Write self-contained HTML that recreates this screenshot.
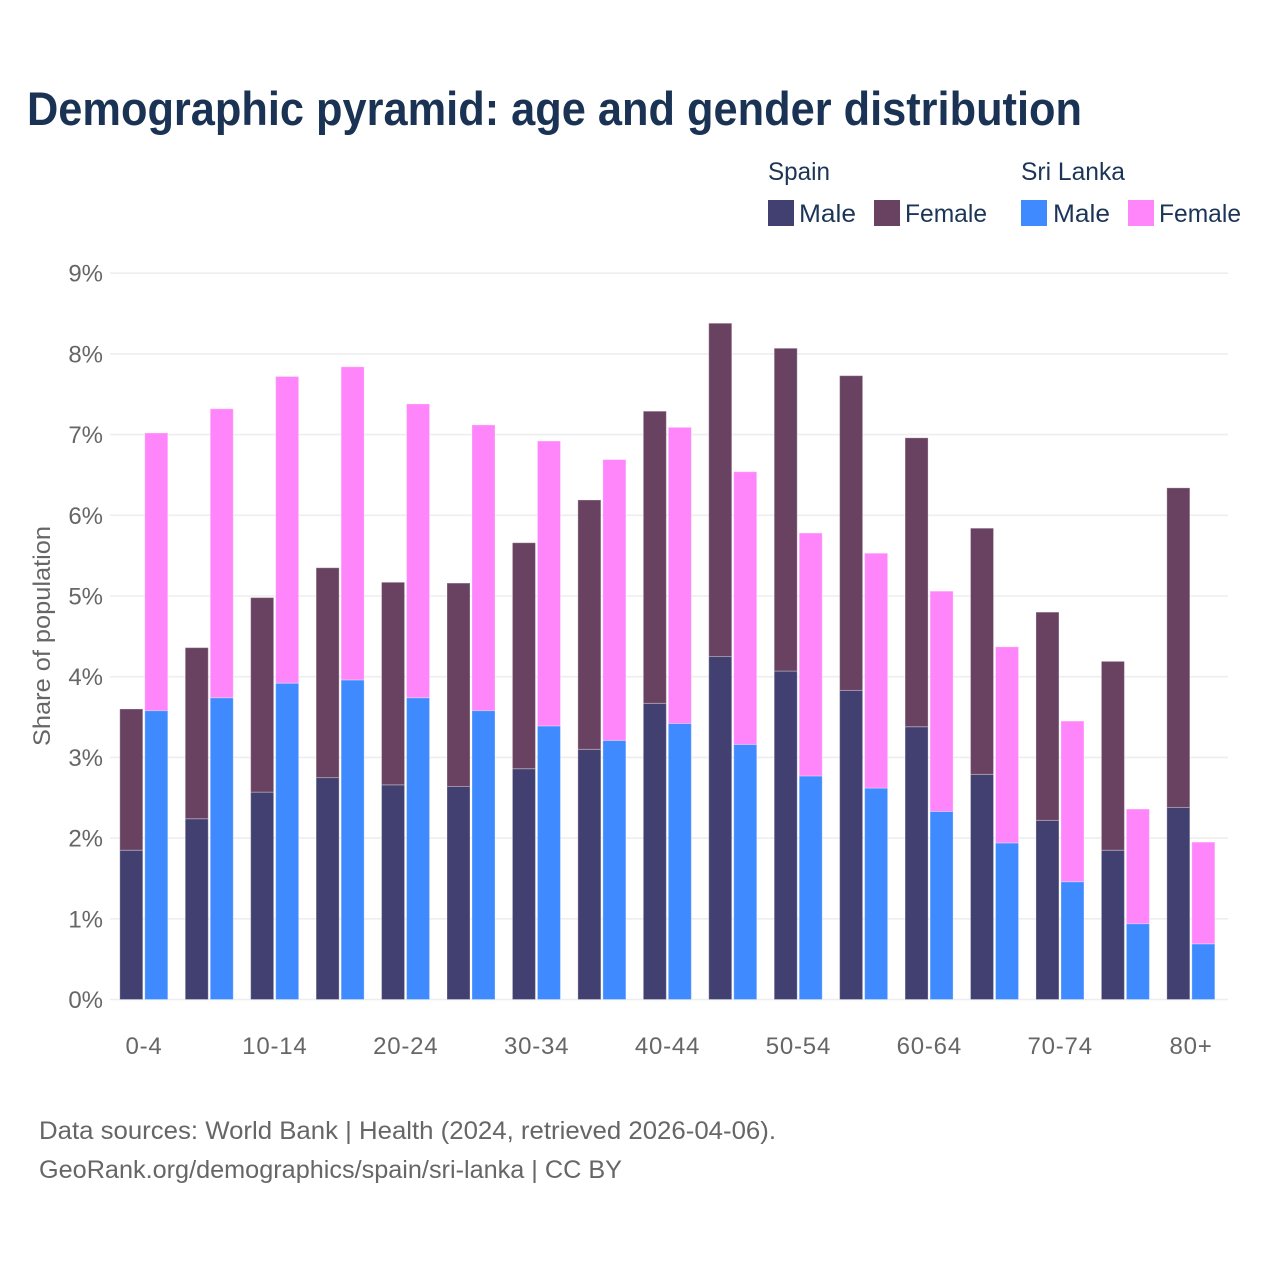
<!DOCTYPE html>
<html lang="en">
<head>
<meta charset="utf-8">
<title>Demographic pyramid</title>
<style>
html,body{margin:0;padding:0;background:#fff;}
svg{display:block;font-family:"Liberation Sans",sans-serif;}
.legend-text{fill:#1c3557;font-size:25px;}
.tick{fill:#666;font-size:24px;}
.foot{fill:#666;font-size:25px;}
</style>
</head>
<body>
<svg id="chart" width="1280" height="1280" viewBox="0 0 1280 1280" xmlns="http://www.w3.org/2000/svg">
  <rect x="0" y="0" width="1280" height="1280" fill="#fff"/>
  <text x="27" y="125" font-size="47" font-weight="700" fill="#1a3354" textLength="1055" lengthAdjust="spacingAndGlyphs">Demographic pyramid: age and gender distribution</text>

  <g>
    <text class="legend-text" x="768" y="180" textLength="62" lengthAdjust="spacingAndGlyphs">Spain</text>
    <text class="legend-text" x="1021" y="180" textLength="104" lengthAdjust="spacingAndGlyphs">Sri Lanka</text>
    <rect x="768" y="200" width="26" height="26" fill="#424070"/>
    <text class="legend-text" x="799" y="222" textLength="57" lengthAdjust="spacingAndGlyphs">Male</text>
    <rect x="874" y="200" width="26" height="26" fill="#684260"/>
    <text class="legend-text" x="905" y="222" textLength="82" lengthAdjust="spacingAndGlyphs">Female</text>
    <rect x="1021" y="200" width="26" height="26" fill="#408aff"/>
    <text class="legend-text" x="1053" y="222" textLength="57" lengthAdjust="spacingAndGlyphs">Male</text>
    <rect x="1128" y="200" width="26" height="26" fill="#ff85fa"/>
    <text class="legend-text" x="1159" y="222" textLength="82" lengthAdjust="spacingAndGlyphs">Female</text>
  </g>

  <g id="grid"></g>
  <g id="yticks"></g>
  <g id="bars"></g>
  <g id="xticks"></g>

  <text transform="translate(50,746) rotate(-90)" x="0" y="0" font-size="24" fill="#666" textLength="220" lengthAdjust="spacingAndGlyphs">Share of population</text>

  <text class="foot" x="39" y="1139" textLength="737" lengthAdjust="spacingAndGlyphs">Data sources: World Bank | Health (2024, retrieved 2026-04-06).</text>
  <text class="foot" x="39" y="1178" textLength="583" lengthAdjust="spacingAndGlyphs">GeoRank.org/demographics/spain/sri-lanka | CC BY</text>
</svg>
<script>
const categories = ["0-4","5-9","10-14","15-19","20-24","25-29","30-34","35-39","40-44","45-49","50-54","55-59","60-64","65-69","70-74","75-79","80+"];
const spainMale = [1.85,2.24,2.57,2.75,2.66,2.64,2.86,3.10,3.67,4.25,4.07,3.83,3.38,2.79,2.22,1.85,2.38];
const spainFemale = [1.75,2.12,2.41,2.60,2.51,2.52,2.80,3.09,3.62,4.13,4.00,3.90,3.58,3.05,2.58,2.34,3.96];
const sriLankaMale = [3.58,3.74,3.92,3.96,3.74,3.58,3.39,3.21,3.42,3.16,2.77,2.62,2.33,1.94,1.46,0.94,0.69];
const sriLankaFemale = [3.44,3.58,3.80,3.88,3.64,3.54,3.53,3.48,3.67,3.38,3.01,2.91,2.73,2.43,1.99,1.42,1.26];
const yTicks = [0,1,2,3,4,5,6,7,8,9];

const NS = "http://www.w3.org/2000/svg";
const yScale = v => 999.5 - v * 80.7;
const xScale = i => 144 + i * 65.44;
const barWidth = 23;

const grid = document.getElementById("grid");
const yticks = document.getElementById("yticks");
const bars = document.getElementById("bars");
const xticks = document.getElementById("xticks");

yTicks.forEach(t => {
  const line = document.createElementNS(NS, "line");
  
  
  line.setAttribute("x1", 110);
  line.setAttribute("x2", 1228);
  line.setAttribute("y1", yScale(t));
  line.setAttribute("y2", yScale(t));
  line.setAttribute("stroke", "#eeeeee");
  line.setAttribute("stroke-width", 1.6);
  grid.appendChild(line);

  const label = document.createElementNS(NS, "text");
  
  
  label.setAttribute("class", "tick");
  label.setAttribute("x", 103);
  label.setAttribute("y", yScale(t) + 8.5);
  label.setAttribute("text-anchor", "end");
  label.textContent = t + "%";
  yticks.appendChild(label);
});

function addBar(x, base, value, fill) {
  const r = document.createElementNS(NS, "rect");
  
  
  r.setAttribute("x", x);
  r.setAttribute("y", yScale(base + value));
  r.setAttribute("width", barWidth);
  r.setAttribute("height", yScale(base) - yScale(base + value));
  r.setAttribute("fill", fill);
  r.setAttribute("stroke", "#ffffff");
  r.setAttribute("stroke-opacity", "0.3");
  r.setAttribute("stroke-width", 1);
  bars.appendChild(r);
}

categories.forEach((c, i) => {
  const cx = xScale(i);
  addBar(cx - 24.2, 0, spainMale[i], "#424070");
  addBar(cx - 24.2, spainMale[i], spainFemale[i], "#684260");
  addBar(cx + 0.8, 0, sriLankaMale[i], "#408aff");
  addBar(cx + 0.8, sriLankaMale[i], sriLankaFemale[i], "#ff85fa");
  if (i % 2 === 0) {
    const label = document.createElementNS(NS, "text");
    
    
    label.setAttribute("class", "tick");
    label.setAttribute("x", cx);
    label.setAttribute("y", 1054);
    label.setAttribute("text-anchor", "middle");
    label.setAttribute("letter-spacing", "0.8");
    label.textContent = c;
    xticks.appendChild(label);
  }
});
</script>
</body>
</html>
